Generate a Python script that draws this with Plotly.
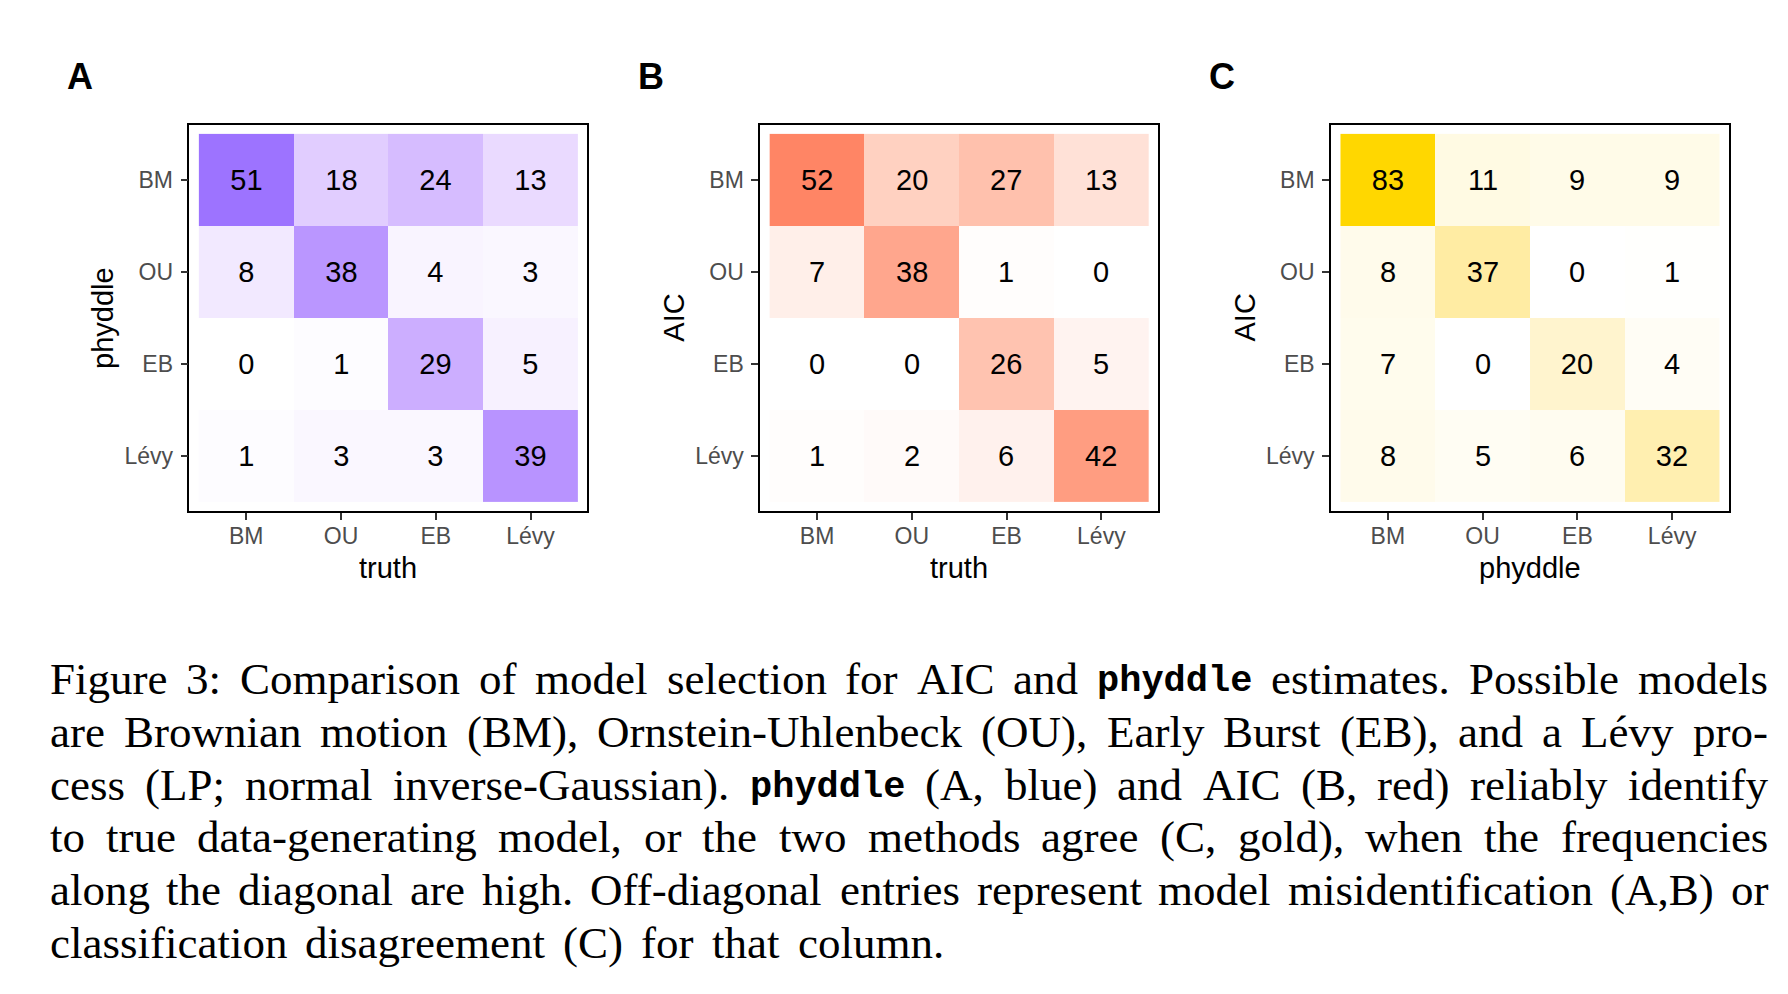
import plotly.graph_objects as go

# ---------------- data ----------------
MODELS = ["BM", "OU", "EB", "Lévy"]

# rows = y categories (BM, OU, EB, Lévy), columns = x categories
PANEL_A_VALUES = [[51, 18, 24, 13],
                  [8, 38, 4, 3],
                  [0, 1, 29, 5],
                  [1, 3, 3, 39]]
PANEL_B_VALUES = [[52, 20, 27, 13],
                  [7, 38, 1, 0],
                  [0, 0, 26, 5],
                  [1, 2, 6, 42]]
PANEL_C_VALUES = [[83, 11, 9, 9],
                  [8, 37, 0, 1],
                  [7, 0, 20, 4],
                  [8, 5, 6, 32]]

PANEL_LETTERS = ["A", "B", "C"]
X_TITLES = ["truth", "truth", "phyddle"]
Y_TITLES = ["phyddle", "AIC", "AIC"]
HIGH_COLORS = [(157, 115, 255), (255, 133, 101), (255, 215, 0)]

CAPTION_LINES = [
    "Figure 3: Comparison of model selection for AIC and phyddle estimates. Possible models",
    "are Brownian motion (BM), Ornstein-Uhlenbeck (OU), Early Burst (EB), and a Lévy pro-",
    "cess (LP; normal inverse-Gaussian). phyddle (A, blue) and AIC (B, red) reliably identify",
    "to true data-generating model, or the two methods agree (C, gold), when the frequencies",
    "along the diagonal are high. Off-diagonal entries represent model misidentification (A,B) or",
    "classification disagreement (C) for that column.",
]
MONO_WORDS = ["phyddle"]

# ---------------- layout helpers ----------------
W, H = 1788, 994
def fx(p):
    return p / W
def fy(p):
    return 1 - p / H

BOX_LEFTS = [181.4, 752.2, 1323.0]
BOX_W = 398.0
BOX_TOP, BOX_BOTTOM = 116.7, 503.3

SANS = "Liberation Sans, Arial, Helvetica, sans-serif"
SERIF = "Liberation Serif, Times New Roman, serif"
MONO = "Liberation Mono, Courier New, monospace"

# ---- Lab interpolation (ggplot2 scale_fill_gradient style) ----
XN, YN, ZN = 0.95047, 1.0, 1.08883
def _lin(c):
    c = c / 255.0
    return c / 12.92 if c <= 0.04045 else ((c + 0.055) / 1.055) ** 2.4
def _unlin(c):
    v = 12.92 * c if c <= 0.0031308 else 1.055 * (max(c, 0) ** (1 / 2.4)) - 0.055
    return int(max(0, min(255, round(v * 255))))
def rgb_to_lab(rgb):
    r, g, b = [_lin(c) for c in rgb]
    X = 0.4124 * r + 0.3576 * g + 0.1805 * b
    Y = 0.2126 * r + 0.7152 * g + 0.0722 * b
    Z = 0.0193 * r + 0.1192 * g + 0.9505 * b
    f = lambda t: t ** (1 / 3) if t > 0.008856 else 7.787 * t + 16 / 116
    fx_, fy_, fz_ = f(X / XN), f(Y / YN), f(Z / ZN)
    return (116 * fy_ - 16, 500 * (fx_ - fy_), 200 * (fy_ - fz_))
def lab_to_rgb(lab):
    L, a, b = lab
    fy_ = (L + 16) / 116
    fx_ = fy_ + a / 500
    fz_ = fy_ - b / 200
    finv = lambda t: t ** 3 if t ** 3 > 0.008856 else (t - 16 / 116) / 7.787
    X, Y, Z = finv(fx_) * XN, finv(fy_) * YN, finv(fz_) * ZN
    r = 3.2406 * X - 1.5372 * Y - 0.4986 * Z
    g = -0.9689 * X + 1.8758 * Y + 0.0415 * Z
    bb = 0.0557 * X - 0.2040 * Y + 1.0570 * Z
    return (_unlin(r), _unlin(g), _unlin(bb))
def lab_scale(high, n=21):
    lo = rgb_to_lab((255, 255, 255))
    hi = rgb_to_lab(high)
    out = []
    for i in range(n):
        t = i / (n - 1)
        lab = tuple(lo[k] + (hi[k] - lo[k]) * t for k in range(3))
        r, g, b = lab_to_rgb(lab)
        if i == n - 1:
            r, g, b = high
        out.append([t, f"rgb({r},{g},{b})"])
    return out

# ---------------- figure ----------------
fig = go.Figure()
panels = [PANEL_A_VALUES, PANEL_B_VALUES, PANEL_C_VALUES]
annotations = []

for i, vals in enumerate(panels):
    ax = "" if i == 0 else str(i + 1)
    zmax = max(max(r) for r in vals)
    fig.add_trace(go.Heatmap(
        z=vals, x=MODELS, y=MODELS,
        colorscale=lab_scale(HIGH_COLORS[i]), zmin=0, zmax=zmax,
        showscale=False, texttemplate="%{z}",
        textfont=dict(family=SANS, size=29, color="black"),
        hoverinfo="skip", xaxis="x" + ax, yaxis="y" + ax,
    ))
    left = BOX_LEFTS[i]
    axis_common = dict(
        type="category", showline=True, mirror=True, linecolor="black", linewidth=1.6,
        ticks="outside", ticklen=7, tickwidth=1.6, tickcolor="#333333",
        tickfont=dict(family=SANS, size=23, color="#4d4d4d"),
        showgrid=False, zeroline=False, fixedrange=True,
        categoryorder="array", categoryarray=MODELS,
    )
    fig.update_layout({
        "xaxis" + ax: dict(axis_common, domain=[fx(left), fx(left + BOX_W)],
                           range=[-0.6, 3.6], anchor="y" + ax, ticklabelstandoff=-4),
        "yaxis" + ax: dict(axis_common, domain=[fy(BOX_BOTTOM), fy(BOX_TOP)],
                           range=[3.6, -0.6], anchor="x" + ax, ticklabelstandoff=3),
    })
    # panel letter
    annotations.append(dict(text=f"<b>{PANEL_LETTERS[i]}</b>", x=fx(left - 109.5), y=fy(68),
                            xref="paper", yref="paper", xanchor="center", yanchor="middle",
                            showarrow=False, font=dict(family=SANS, size=36, color="black")))
    # x title
    annotations.append(dict(text=X_TITLES[i], x=fx(left + BOX_W / 2), y=fy(560),
                            xref="paper", yref="paper", xanchor="center", yanchor="middle",
                            showarrow=False, font=dict(family=SANS, size=29, color="black")))
    # y title
    annotations.append(dict(text=Y_TITLES[i], x=fx(left - 86.5), y=fy((BOX_TOP + BOX_BOTTOM) / 2),
                            xref="paper", yref="paper", xanchor="center", yanchor="middle",
                            textangle=-90, showarrow=False,
                            font=dict(family=SANS, size=29, color="black")))

# ---------------- caption (justified, word by word) ----------------
TNR = {
    'a': .444, 'b': .5, 'c': .444, 'd': .5, 'e': .444, 'f': .333, 'g': .5, 'h': .5, 'i': .278,
    'j': .278, 'k': .5, 'l': .278, 'm': .778, 'n': .5, 'o': .5, 'p': .5, 'q': .5, 'r': .333,
    's': .389, 't': .278, 'u': .5, 'v': .5, 'w': .722, 'x': .5, 'y': .5, 'z': .444, 'é': .444,
    'A': .722, 'B': .667, 'C': .667, 'D': .722, 'E': .611, 'F': .556, 'G': .722, 'H': .722,
    'I': .333, 'L': .611, 'M': .889, 'O': .722, 'P': .556, 'U': .722,
    ',': .25, '.': .25, ':': .278, ';': .278, '(': .333, ')': .333, '-': .333,
}
CAP_SIZE = 45
MONO_SIZE = 37
CAP_LEFT = 40.5
CAP_RIGHTS = [1759, 1759, 1759, 1759, 1759, 935]
CAP_Y0, CAP_DY = 671, 52.8

def word_width(w):
    if w in MONO_WORDS:
        return 0.6 * MONO_SIZE * len(w)
    return sum(TNR.get(ch, 0.5) for ch in w) * CAP_SIZE

for li, line in enumerate(CAPTION_LINES):
    words = line.split(" ")
    widths = [word_width(w) for w in words]
    gap = (CAP_RIGHTS[li] - CAP_LEFT - sum(widths)) / (len(words) - 1)
    xpos = CAP_LEFT
    yc = CAP_Y0 + li * CAP_DY
    for w, wd in zip(words, widths):
        mono = w in MONO_WORDS
        annotations.append(dict(
            text=w, x=fx(xpos), y=fy(yc + (2 if mono else 0)), xref="paper", yref="paper",
            xanchor="left", yanchor="middle", showarrow=False, borderpad=0,
            font=dict(family=MONO if mono else SERIF,
                      size=MONO_SIZE if mono else CAP_SIZE, color="black",
                      weight="bold" if mono else "normal"),
        ))
        xpos += wd + gap

fig.update_layout(
    width=W, height=H, margin=dict(l=0, r=0, t=0, b=0),
    paper_bgcolor="white", plot_bgcolor="white",
    annotations=annotations, showlegend=False,
)

fig.write_html("out.html")
